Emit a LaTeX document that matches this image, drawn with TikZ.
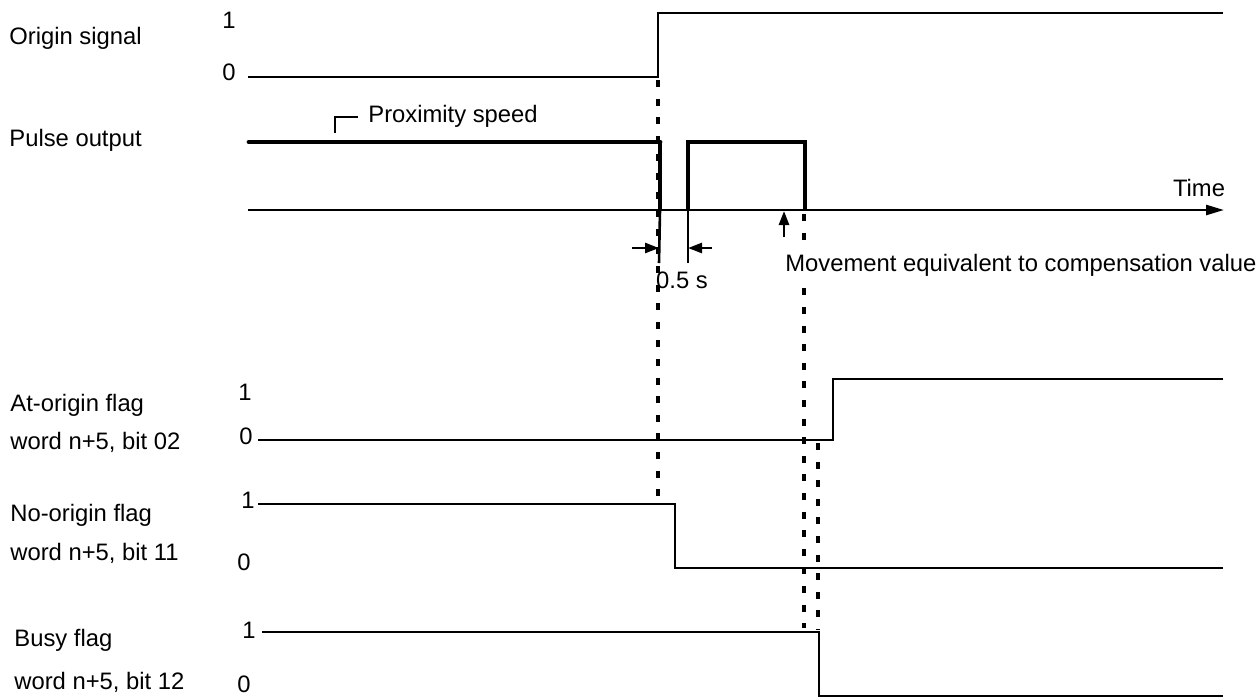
\documentclass[tikz,border=0pt]{standalone}
\usepackage{fontspec}
\setmainfont{Liberation Sans}
\usetikzlibrary{arrows.meta}
\begin{document}
\begin{tikzpicture}[x=0.5pt,y=-0.5pt,
  lbl/.style={anchor=west,inner sep=0pt,font=\fontsize{11.9}{14}\selectfont},
  num/.style={anchor=center,inner sep=0pt,font=\fontsize{11.9}{14}\selectfont},
  sig/.style={line width=1.3pt,line join=miter},
  pulse/.style={line width=2.4pt,line join=miter},
  dsh/.style={line width=1.6pt,dash pattern=on 3.5pt off 5.8pt},
  tip/.style={-{Triangle[length=7pt,width=5pt]},line width=1.3pt}]
\useasboundingbox (0,0) rectangle (1256,698);
% labels
\node[lbl] (l1) at (9,38) {Origin signal};
\node[lbl] (l2) at (9,140) {Pulse output};
\node[lbl] (l3) at (10,405) {At-origin flag};
\node[lbl] (l4) at (10,442) {word n+5, bit 02};
\node[lbl] (l5) at (10,515) {No-origin flag};
\node[lbl] (l6) at (10,553) {word n+5, bit 11};
\node[lbl] (l7) at (14,640) {Busy flag};
\node[lbl] (l8) at (14,682) {word n+5, bit 12};
% level numbers
\node[num] (o1) at (229,20) {1};
\node[num] (o0) at (229,72) {0};
\node[num] (a1) at (245,392) {1};
\node[num] (a0) at (246,436) {0};
\node[num] (n1) at (248,500) {1};
\node[num] (n0) at (244,562) {0};
\node[num] (b1) at (249,630) {1};
\node[num] (b0) at (244,684) {0};
% origin signal
\coordinate (os0) at (248,77);
\coordinate (osr) at (658,77);
\coordinate (osh) at (658,13);
\coordinate (ose) at (1223,13);
\draw[sig] (os0) -- (osr) -- (osh) -- (ose);
% time axis
\coordinate (ta) at (248,210);
\coordinate (tb) at (1224,210);
\draw[line width=1.3pt,-{Triangle[length=9pt,width=5pt]}] (ta) -- (tb);
\node[lbl,anchor=center] (time) at (1199,188) {Time};
% pulse output
\coordinate (p0) at (249,142);
\coordinate (p1) at (660,142);
\coordinate (p2) at (660,210);
\coordinate (p3) at (688,210);
\coordinate (p4) at (688,142);
\coordinate (p5) at (805,142);
\coordinate (p6) at (805,210);
\draw[pulse,line cap=round] (p0) -- (p1);
\draw[pulse] (p1) -- (p2);
\draw[pulse] (p3) -- (p4) -- (p5) -- (p6);
% proximity speed bracket
\coordinate (pb0) at (335,133);
\coordinate (pb1) at (335,117);
\coordinate (pb2) at (358,117);
\draw[sig] (pb0) -- (pb1) -- (pb2);
\node[lbl] (prox) at (368,116) {Proximity speed};
% 0.5 s marker
\coordinate (m1) at (659,263);
\coordinate (m2) at (688,263);
\draw[sig] (p2) -- (m1);
\draw[sig] (p3) -- (m2);
\coordinate (ma) at (632,248);
\coordinate (mb) at (659,248);
\coordinate (mc) at (712,248);
\coordinate (md) at (688,248);
\draw[tip] (ma) -- (mb);
\draw[tip] (mc) -- (md);
\node[num] (half) at (682,280) {0.5 s};
% compensation arrow
\coordinate (ca) at (784,237);
\coordinate (cb) at (784,211);
\draw[-{Triangle[length=7pt,width=5pt]},line width=1.3pt] (ca) -- (cb);
% dashed lines
\coordinate (d1a) at (658,80);
\coordinate (d1b) at (658,502);
\draw[dsh] (d1a) -- (d1b);
\coordinate (d2a) at (804,214);
\coordinate (d2b) at (804,628);
\draw[dsh] (d2a) -- (d2b);
\coordinate (d3a) at (818,443);
\coordinate (d3b) at (818,630);
\draw[dsh] (d3a) -- (d3b);
\node[lbl,fill=white,inner ysep=2pt] (mov) at (785,265) {Movement equivalent to compensation value};
% at-origin flag
\coordinate (at0) at (258,440);
\coordinate (atr) at (833,440);
\coordinate (ath) at (833,379);
\coordinate (ate) at (1223,379);
\draw[sig] (at0) -- (atr) -- (ath) -- (ate);
% no-origin flag
\coordinate (no0) at (258,504);
\coordinate (nor) at (675,504);
\coordinate (nol) at (675,568);
\coordinate (noe) at (1223,568);
\draw[sig] (no0) -- (nor) -- (nol) -- (noe);
% busy flag
\coordinate (bu0) at (262,632);
\coordinate (bur) at (819,632);
\coordinate (bul) at (819,696);
\coordinate (bue) at (1223,696);
\draw[sig] (bu0) -- (bur) -- (bul) -- (bue);
\end{tikzpicture}
\end{document}
